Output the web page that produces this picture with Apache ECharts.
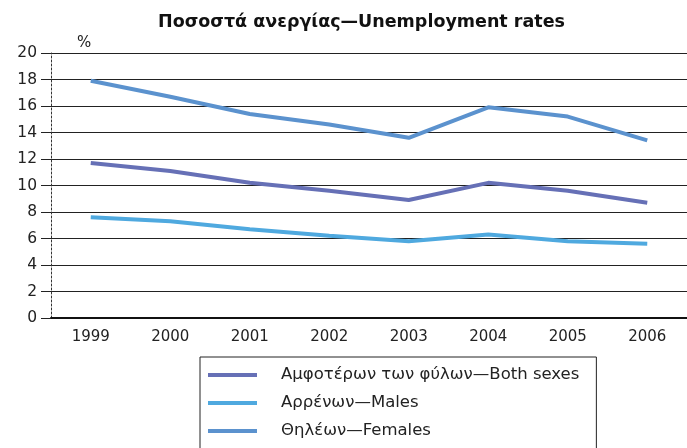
<!DOCTYPE html>
<html>
<head>
<meta charset="utf-8">
<script src="https://cdn.jsdelivr.net/npm/echarts@6/dist/echarts.min.js"></script>
<style>
html,body{margin:0;padding:0;background:#fff;}
#c{width:687px;height:448px;}
</style>
</head>
<body>
<div id="c"></div>
<script>
const years = ['1999','2000','2001','2002','2003','2004','2005','2006'];
const bothSexes = [11.7, 11.1, 10.2, 9.6, 8.9, 10.2, 9.6, 8.7];
const males = [7.6, 7.3, 6.7, 6.2, 5.8, 6.3, 5.8, 5.6];
const females = [17.9, 16.7, 15.4, 14.6, 13.6, 15.9, 15.2, 13.4];
const seriesNames = ['Αμφοτέρων των φύλων—Both sexes', 'Αρρένων—Males', 'Θηλέων—Females'];
const titleText = 'Ποσοστά ανεργίας—Unemployment rates';
const unitText = '%';

const font = '"DejaVu Sans", sans-serif';
const colors = ['#6670B6', '#4FA9DF', '#5B92CE'];

const chart = echarts.init(document.getElementById('c'));
chart.setOption({
  animation: false,
  backgroundColor: '#fff',
  color: colors,
  textStyle: { fontFamily: font },
  title: [
    { text: titleText, left: 153, top: 8,
      textStyle: { fontFamily: font, fontSize: 17.5, fontWeight: 'bold', color: '#111' } },
    { text: unitText, left: 72, top: 31,
      textStyle: { fontFamily: font, fontSize: 15, fontWeight: 'normal', color: '#222' } }
  ],
  grid: { left: 51, top: 53, bottom: 130, right: -6, containLabel: false },
  legend: {
    orient: 'vertical',
    left: 200, top: 357,
    height: 110,
    padding: [9, 17, 20, 8],
    borderColor: '#222', borderWidth: 1,
    icon: 'rect',
    itemWidth: 49, itemHeight: 4,
    itemGap: 10,
    textStyle: { fontFamily: font, fontSize: 16.5, color: '#222', lineHeight: 18, padding: [0, 0, 0, 19] },
    data: seriesNames
  },
  xAxis: {
    type: 'category',
    data: years,
    boundaryGap: true,
    axisLine: { lineStyle: { color: '#111', width: 2 } },
    axisTick: { alignWithLabel: true, length: 7, lineStyle: { color: '#222' } },
    axisLabel: { fontFamily: font, fontSize: 15, color: '#222', margin: 12 },
    splitLine: { show: false }
  },
  yAxis: {
    type: 'value',
    min: 0, max: 20, interval: 2,
    axisLine: { show: true, lineStyle: { color: '#333', width: 1, type: [2, 2] } },
    axisTick: { show: true, length: 10, lineStyle: { color: '#222' } },
    axisLabel: { fontFamily: font, fontSize: 15.5, color: '#222', margin: 14 },
    splitLine: { show: true, lineStyle: { color: '#222', width: 1 } }
  },
  series: [
    { name: seriesNames[0], type: 'line', data: bothSexes, symbol: 'none', lineStyle: { width: 4, color: colors[0] }, itemStyle: { color: colors[0] } },
    { name: seriesNames[1], type: 'line', data: males, symbol: 'none', lineStyle: { width: 4, color: colors[1] }, itemStyle: { color: colors[1] } },
    { name: seriesNames[2], type: 'line', data: females, symbol: 'none', lineStyle: { width: 4, color: colors[2] }, itemStyle: { color: colors[2] } }
  ]
});
</script>
</body>
</html>
